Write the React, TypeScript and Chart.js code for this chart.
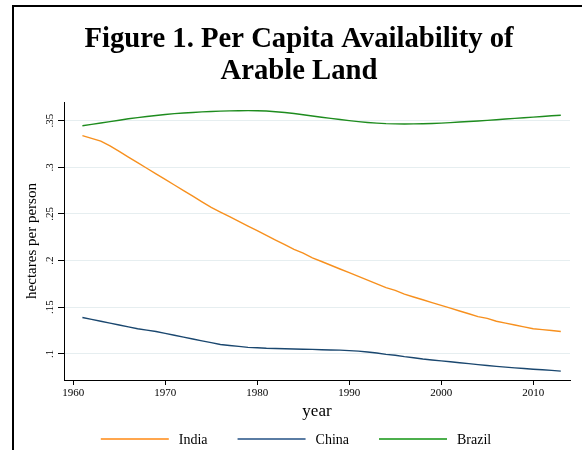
import React, { useEffect, useRef } from "react";
import { Chart, registerables } from "chart.js";

Chart.register(...registerables);

const years: number[] = [];
for (let y = 1961; y <= 2013; y++) years.push(y);

const india = [
  0.334, 0.331, 0.328, 0.323, 0.317, 0.311, 0.305, 0.299, 0.293, 0.287,
  0.281, 0.275, 0.269, 0.263, 0.257, 0.252, 0.247, 0.242, 0.237, 0.232,
  0.227, 0.222, 0.217, 0.212, 0.208, 0.203, 0.199, 0.195, 0.191, 0.187,
  0.183, 0.179, 0.175, 0.171, 0.168, 0.164, 0.161, 0.158, 0.155, 0.152,
  0.149, 0.146, 0.143, 0.140, 0.138, 0.135, 0.133, 0.131, 0.129, 0.127,
  0.126, 0.125, 0.124,
];

const china = [
  0.139, 0.137, 0.135, 0.133, 0.131, 0.129, 0.127, 0.1255, 0.124, 0.122,
  0.120, 0.118, 0.116, 0.114, 0.112, 0.110, 0.109, 0.108, 0.107, 0.1065,
  0.106, 0.1058, 0.1055, 0.1053, 0.105, 0.1048, 0.1045, 0.1042, 0.104, 0.1035,
  0.103, 0.102, 0.101, 0.0995, 0.0985, 0.097, 0.0958, 0.0945, 0.0935, 0.0925,
  0.0915, 0.0905, 0.0895, 0.0885, 0.0875, 0.0866, 0.0858, 0.085, 0.0843, 0.0836,
  0.083, 0.0823, 0.0815,
];

const brazil = [
  0.3445, 0.346, 0.3475, 0.349, 0.3505, 0.352, 0.3533, 0.3545, 0.3556, 0.3566,
  0.3575, 0.3582, 0.3588, 0.3594, 0.3598, 0.3602, 0.3605, 0.3607, 0.3608, 0.3607,
  0.3603, 0.3596, 0.3587, 0.3576, 0.3563, 0.355, 0.3537, 0.3524, 0.3512, 0.35,
  0.349, 0.3481, 0.3474, 0.3468, 0.3465, 0.3464, 0.3465, 0.3467, 0.347, 0.3474,
  0.3479, 0.3485, 0.3491, 0.3497, 0.3503, 0.351, 0.3517, 0.3524, 0.3531, 0.3538,
  0.3545, 0.3552, 0.3558,
];

const seriesNames = ["India", "China", "Brazil"];
const titleLines = ["Figure 1. Per Capita Availability of", "Arable Land"];
const xTickValues = [1960, 1970, 1980, 1990, 2000, 2010];
const yTickValues = [0.1, 0.15, 0.2, 0.25, 0.3, 0.35];
const yTickLabels = [".1", ".15", ".2", ".25", ".3", ".35"];

const SERIF = "'Liberation Serif', 'Times New Roman', serif";

const titlePlugin = {
  id: "figTitle",
  afterDraw(chart: any) {
    const ctx = chart.ctx;
    ctx.save();
    ctx.fillStyle = "#000";
    ctx.font = `bold 28.7px ${SERIF}`;
    ctx.textAlign = "center";
    ctx.textBaseline = "alphabetic";
    ctx.fillText(titleLines[0], 285, 40);
    ctx.fillText(titleLines[1], 285, 71.5);
    ctx.restore();
  },
};

const yLabelPlugin = {
  id: "yRotLabels",
  afterDraw(chart: any) {
    const ctx = chart.ctx;
    const y = chart.scales.y;
    ctx.save();
    ctx.fillStyle = "#000";
    ctx.font = `11px ${SERIF}`;
    ctx.textAlign = "center";
    ctx.textBaseline = "middle";
    yTickValues.forEach((v, i) => {
      const py = y.getPixelForValue(v);
      ctx.save();
      ctx.translate(y.right - 14, py);
      ctx.rotate(-Math.PI / 2);
      ctx.fillText(yTickLabels[i], 0, 0);
      ctx.restore();
    });
    ctx.restore();
  },
};

const legendPlugin = {
  id: "lineLegend",
  afterDraw(chart: any) {
    const ctx = chart.ctx;
    const ds = chart.data.datasets;
    const lineLen = 68;
    const gap = 10;
    const sep = 30;
    ctx.save();
    ctx.font = `14px ${SERIF}`;
    const widths = ds.map((d: any) => lineLen + gap + ctx.measureText(d.label).width);
    const total = widths.reduce((a: number, b: number) => a + b, 0) + sep * (ds.length - 1);
    let x = chart.width / 2 - total / 2 - 2;
    const yy = chart.height - 11;
    ds.forEach((d: any, i: number) => {
      ctx.strokeStyle = d.legendColor;
      ctx.lineWidth = 2;
      ctx.beginPath();
      ctx.moveTo(x, yy);
      ctx.lineTo(x + lineLen, yy);
      ctx.stroke();
      ctx.fillStyle = "#000";
      ctx.textAlign = "left";
      ctx.textBaseline = "middle";
      ctx.fillText(d.label, x + lineLen + gap, yy + 1);
      x += widths[i] + sep;
    });
    ctx.restore();
  },
};

export default function App() {
  const ref = useRef<HTMLCanvasElement>(null);
  useEffect(() => {
    if (!ref.current) return;
    const mk = (vals: number[]) => vals.map((v, i) => ({ x: years[i], y: v }));
    const chart = new Chart(ref.current, {
      type: "line",
      data: {
        datasets: [
          { label: seriesNames[0], data: mk(india), borderColor: "#f7901e", legendColor: "#ffa64d", borderWidth: 1.4, pointRadius: 0, tension: 0 } as any,
          { label: seriesNames[1], data: mk(china), borderColor: "#1a476f", legendColor: "#5a7ca3", borderWidth: 1.4, pointRadius: 0, tension: 0 } as any,
          { label: seriesNames[2], data: mk(brazil), borderColor: "#1e8c1e", legendColor: "#4caf4c", borderWidth: 1.4, pointRadius: 0, tension: 0 } as any,
        ],
      },
      options: {
        responsive: false,
        animation: false,
        layout: { padding: { top: 95, right: 12, bottom: 20, left: 0 } },
        plugins: {
          legend: { display: false },
          tooltip: { enabled: false },
          title: { display: false },
        },
        scales: {
          x: {
            type: "linear",
            min: 1959,
            max: 2014,
            afterBuildTicks: (s: any) => { s.ticks = xTickValues.map((v) => ({ value: v })); },
            afterFit: (s: any) => { s.height = 50; },
            grid: { drawOnChartArea: false, tickLength: 5, tickColor: "#000" },
            border: { color: "#000", width: 1 },
            ticks: { color: "#000", font: { family: SERIF, size: 11 }, padding: 2, maxRotation: 0, callback: (v: any) => String(v) },
            title: { display: true, text: "year", color: "#000", font: { family: SERIF, size: 17 }, padding: { top: 0, bottom: 8 } },
          },
          y: {
            type: "linear",
            min: 0.072,
            max: 0.37,
            afterBuildTicks: (s: any) => { s.ticks = yTickValues.map((v) => ({ value: v })); },
            afterFit: (s: any) => { s.width = 50; },
            grid: { color: "#e6eef0", lineWidth: 1, tickLength: 6, tickColor: "#000" },
            border: { color: "#000", width: 1 },
            ticks: { display: false },
            title: { display: true, text: "hectares per person", color: "#000", font: { family: SERIF, size: 15 }, padding: { top: 9, bottom: 0 } },
          },
        },
      },
      plugins: [titlePlugin, yLabelPlugin, legendPlugin],
    } as any);
    return () => chart.destroy();
  }, []);
  return (
    <div
      style={{
        position: "absolute",
        left: 12,
        top: 5,
        width: 568,
        height: 443,
        borderLeft: "2px solid #000",
        borderTop: "2px solid #000",
        background: "#fff",
      }}
    >
      <canvas ref={ref} width={568} height={443} style={{ display: "block", width: 568, height: 443 }} />
    </div>
  );
}
